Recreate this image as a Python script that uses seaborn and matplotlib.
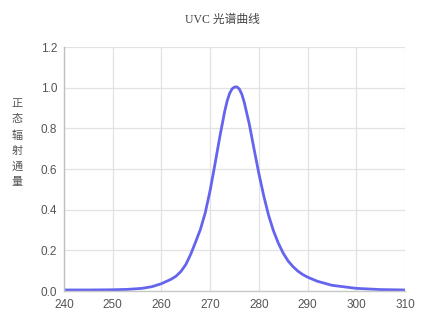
import matplotlib
matplotlib.use("Agg")
import matplotlib.pyplot as plt
import seaborn as sns
import pandas as pd

wavelength = [240, 245, 250, 253, 256, 258, 260, 261, 262, 263, 264, 265, 266, 267, 268,
              269, 270, 271, 272, 273, 273.5, 274, 274.5, 275, 275.5, 276, 276.5, 277,
              278, 279, 280, 281, 282, 283, 284, 285, 286, 287, 288, 289, 290, 292, 295,
              300, 305, 310]
irradiance = [0.005, 0.005, 0.006, 0.008, 0.013, 0.021, 0.036, 0.047, 0.058, 0.073,
              0.096, 0.130, 0.180, 0.240, 0.303, 0.385, 0.495, 0.625, 0.760, 0.885,
              0.935, 0.972, 0.994, 1.003, 1.004, 0.993, 0.968, 0.928, 0.825, 0.700,
              0.578, 0.468, 0.372, 0.296, 0.235, 0.186, 0.148, 0.120, 0.098, 0.081,
              0.068, 0.048, 0.028, 0.013, 0.007, 0.005]
x_ticks = [240, 250, 260, 270, 280, 290, 300, 310]
y_ticks = [0.0, 0.2, 0.4, 0.6, 0.8, 1.0, 1.2]
title = "UVC 光谱曲线"
ylabel = "正态辐射通量"

sns.set_theme(style="whitegrid")
plt.rcParams['font.family'] = ['Liberation Sans', 'Noto Sans CJK SC', 'DejaVu Sans']

df = pd.DataFrame({"wavelength": wavelength, "irradiance": irradiance})

fig = plt.figure(figsize=(4.24, 3.2), dpi=100)
ax = fig.add_axes([64/424, 29/320, (405-64)/424, (291-47)/320])
sns.lineplot(data=df, x="wavelength", y="irradiance", ax=ax,
             color="#6464ee", linewidth=2.0)

ax.set_xlim(240, 310)
ax.set_ylim(0, 1.2)
ax.set_xticks(x_ticks)
ax.set_yticks(y_ticks)
ax.set_yticklabels([f"{v:.1f}" for v in y_ticks])
ax.set_xlabel("")
ax.set_ylabel("")
ax.grid(True, color="#e2e2e2", linewidth=0.9)
for s in ["top", "right"]:
    ax.spines[s].set_visible(False)
ax.spines["left"].set_color("#c0c0c0")
ax.spines["bottom"].set_color("#c8c8c8")
ax.spines["left"].set_linewidth(1.0)
ax.spines["bottom"].set_linewidth(1.0)
ax.tick_params(axis="both", labelsize=8.5, colors="#555555", length=0, pad=5)
ax.tick_params(axis="x", pad=6)

fig.text(222/424, 1 - 20/320, title, ha="center", va="center", fontsize=8.5,
         color="#444444", family=['Liberation Serif', 'Noto Sans CJK SC', 'DejaVu Sans'])
fig.text(17/424, 1 - 143/320, "\n".join(ylabel), ha="center", va="center",
         fontsize=8, color="#555555", linespacing=1.65,
         family=['Noto Sans CJK SC', 'DejaVu Sans'])

fig.savefig("out.png", dpi=100)
